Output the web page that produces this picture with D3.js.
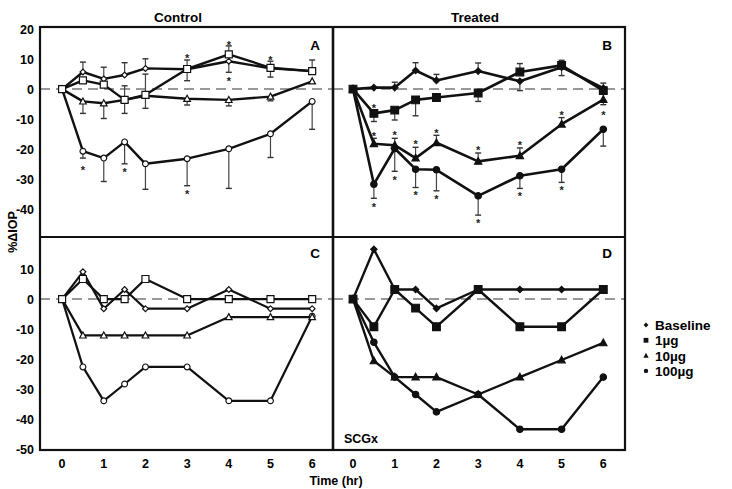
<!DOCTYPE html>
<html><head><meta charset="utf-8">
<script src="https://cdn.jsdelivr.net/npm/d3@7"></script>
<style>body{margin:0;background:#fff;} text{font-family:"Liberation Sans",Arial,sans-serif;font-weight:bold;}</style>
</head><body>
<svg id="c" width="732" height="489"></svg>
<script>
const times = [0, 0.5, 1, 1.5, 2, 3, 4, 5, 6];
const xTicks = [0, 1, 2, 3, 4, 5, 6];
const yTicksTop = [20, 10, 0, -10, -20, -30, -40];
const yTicksBottom = [10, 0, -10, -20, -30, -40, -50];
const seriesNames = ["Baseline", "1\u00b5g", "10\u00b5g", "100\u00b5g"];

// Panel A: Control (mean, error-bar end)
const ctrlBaseline    = [0, 5.7, 3.4, 4.7, 6.9, 6.6, 9.3, 6.9, 6.0];
const ctrlBaselineErr = [null, 9.0, 7.3, 8.8, 10.1, 2.8, 5.6, 4.0, null];
const ctrl1ug         = [0, 2.9, 1.5, -3.6, -1.9, 6.7, 11.6, 7.1, 6.0];
const ctrl1ugErr      = [null, null, null, 1.1, 5.0, 9.7, 14.4, 9.3, 9.7];
const ctrl10ug        = [0, -4.1, -4.7, -3.6, -2.2, -3.2, -3.6, -2.5, 2.6];
const ctrl10ugErr     = [null, -8.1, -9.8, -8.1, -6.4, -5.3, -5.6, -3.9, null];
const ctrl100ug       = [0, -20.7, -23.0, -17.6, -24.9, -23.2, -19.9, -14.9, -4.1];
const ctrl100ugErr    = [null, -23.0, -30.8, -24.9, -33.4, -32.2, -33.1, -22.8, -13.4];
const ctrlStars       = [[3, 11.3], [4, 15.7], [4, 3.5], [5, 10.6], [0.5, -26.1], [1.5, -26.8], [3, -34.2]];

// Panel B: Treated
const trtBaseline    = [0, 0.5, 0.5, 6.2, 2.9, 6.0, 2.6, 7.3, 0.3];
const trtBaselineErr = [null, null, 2.3, 8.8, 4.9, 8.7, -0.5, 4.5, 2.0];
const trt1ug         = [0, -8.1, -7.0, -3.6, -2.8, -1.3, 5.7, 7.9, -0.5];
const trt1ugErr      = [null, -10.8, -10.3, -8.9, null, -4.1, 8.5, 9.6, -3.9];
const trt10ug        = [0, -18.2, -18.7, -23.0, -17.9, -24.1, -22.2, -11.7, -3.5];
const trt10ugErr     = [null, -16.4, -16.4, -19.4, -15.4, -21.3, -19.6, -9.5, -5.2];
const trt100ug       = [0, -31.7, -19.8, -26.7, -26.9, -35.6, -28.9, -26.7, -13.4];
const trt100ugErr    = [null, -36.4, -27.4, -32.8, -33.9, -42.0, -33.1, -31.1, -19.0];
const trtStars       = [[0.5, -5.6], [0.5, -14.7], [1, -14.5], [1.5, -17.6], [2, -13.7], [3, -19.6], [4, -17.9], [5, -7.8], [6, -7.8],
                        [0.5, -38.6], [1, -29.5], [1.5, -34.5], [2, -35.8], [3, -43.7], [4, -34.7], [5, -32.8]];

// Panel C: Control (SCGx)
const scgCtrlBaseline = [0, 9.1, -3.2, 3.2, -3.2, -3.2, 3.2, -3.2, -3.2];
const scgCtrl1ug      = [0, 6.7, 0, 0, 6.7, 0, 0, 0, 0];
const scgCtrl10ug     = [0, -12.1, -12.1, -12.1, -12.1, -12.1, -6.0, -6.0, -6.0];
const scgCtrl100ug    = [0, -22.6, -33.9, -28.3, -22.6, -22.6, -33.9, -33.9, -5.7];

// Panel D: Treated (SCGx)
const scgTrtBaseline = [0, 16.6, 3.2, 3.2, -3.1, 3.2, 3.2, 3.2, 3.2];
const scgTrt1ug      = [0, -9.2, 3.2, -3.0, -9.2, 3.2, -9.2, -9.2, 3.2];
const scgTrt10ug     = [0, -20.6, -26.0, -26.0, -26.0, -31.8, -26.0, -20.3, -14.6];
const scgTrt100ug    = [0, -14.4, -26.0, -31.8, -37.6, -31.8, -43.4, -43.4, -26.0];

const svg = d3.select("#c");
const L = 40, M = 333, R = 625, T = 27, H = 237, B = 450;

const xLeft = d3.scaleLinear().domain([-0.53, 6.5]).range([L, M]);
const xRight = d3.scaleLinear().domain([-0.48, 6.52]).range([M, R]);
const yTop = d3.scaleLinear().domain([-49.3, 20.7]).range([H, T]);
const yBot = d3.scaleLinear().domain([-50.3, 20.7]).range([B, H]);

const shapes = ["diamond", "square", "triangle", "circle"];
const markerOrder = [0, 3, 2, 1]; // squares drawn on top

function markerPath(shape, s) {
  if (shape === "diamond") return `M0,${-s}L${s},0L0,${s}L${-s},0Z`;
  if (shape === "square") return `M${-s},${-s}H${s}V${s}H${-s}Z`;
  if (shape === "triangle") { const h = s * 1.15; return `M0,${-h}L${s * 1.1},${h * 0.75}L${-s * 1.1},${h * 0.75}Z`; }
  return d3.symbol(d3.symbolCircle, Math.PI * s * s)();
}
const markerSizes = { diamond: 2.9, square: 3.5, triangle: 3.0, circle: 2.9 };

function drawPanel(x, y, series, errs, stars, filled, lineW) {
  const g = svg.append("g");
  g.append("line").attr("x1", x.range()[0]).attr("x2", x.range()[1])
    .attr("y1", y(0)).attr("y2", y(0))
    .attr("stroke", "#777").attr("stroke-width", 1.5).attr("stroke-dasharray", "10,6");
  if (errs) {
    errs.forEach((eArr, si) => {
      eArr.forEach((e, i) => {
        if (e === null) return;
        const xv = x(times[i]);
        g.append("line").attr("x1", xv).attr("x2", xv).attr("y1", y(series[si][i])).attr("y2", y(e))
          .attr("stroke", "#444").attr("stroke-width", 1.2);
        g.append("line").attr("x1", xv - 3).attr("x2", xv + 3).attr("y1", y(e)).attr("y2", y(e))
          .attr("stroke", "#333").attr("stroke-width", 1.4);
      });
    });
  }
  const line = d3.line().x((d, i) => x(times[i])).y(d => y(d));
  series.forEach(vals => {
    g.append("path").attr("d", line(vals)).attr("fill", "none")
      .attr("stroke", "#111").attr("stroke-width", lineW).attr("stroke-linejoin", "round");
  });
  markerOrder.forEach(si => {
    const vals = series[si];
    const shape = shapes[si];
    g.selectAll(null).data(vals).enter().append("path")
      .attr("transform", (d, i) => `translate(${x(times[i])},${y(d)})`)
      .attr("d", markerPath(shape, markerSizes[shape] * (filled ? 1.1 : 1)))
      .attr("fill", filled ? "#111" : "#fff").attr("stroke", "#111").attr("stroke-width", 1.2);
  });
  if (stars) {
    g.selectAll(null).data(stars).enter().append("text")
      .attr("x", d => x(d[0])).attr("y", d => y(d[1]) + 6.5)
      .attr("text-anchor", "middle").attr("font-size", 11).attr("font-weight", "normal")
      .attr("fill", "#222").text("*");
  }
}

drawPanel(xLeft, yTop, [ctrlBaseline, ctrl1ug, ctrl10ug, ctrl100ug],
  [ctrlBaselineErr, ctrl1ugErr, ctrl10ugErr, ctrl100ugErr], ctrlStars, false, 2.4);
drawPanel(xRight, yTop, [trtBaseline, trt1ug, trt10ug, trt100ug],
  [trtBaselineErr, trt1ugErr, trt10ugErr, trt100ugErr], trtStars, true, 2.6);
drawPanel(xLeft, yBot, [scgCtrlBaseline, scgCtrl1ug, scgCtrl10ug, scgCtrl100ug], null, null, false, 2.2);
drawPanel(xRight, yBot, [scgTrtBaseline, scgTrt1ug, scgTrt10ug, scgTrt100ug], null, null, true, 2.4);

svg.append("rect").attr("x", L).attr("y", T).attr("width", R - L).attr("height", B - T)
  .attr("fill", "none").attr("stroke", "#111").attr("stroke-width", 2.2);
svg.append("line").attr("x1", M).attr("x2", M).attr("y1", T).attr("y2", B).attr("stroke", "#111").attr("stroke-width", 2.6);
svg.append("line").attr("x1", L).attr("x2", R).attr("y1", H).attr("y2", H).attr("stroke", "#111").attr("stroke-width", 2.2);

const fs = 12.5;
svg.selectAll(null).data(yTicksTop).enter().append("text")
  .attr("x", 34).attr("y", d => yTop(d) + 4.5).attr("text-anchor", "end").attr("font-size", fs).text(d => d);
svg.selectAll(null).data(yTicksBottom).enter().append("text")
  .attr("x", 34).attr("y", d => yBot(d) + 4.5).attr("text-anchor", "end").attr("font-size", fs).text(d => d);
[xLeft, xRight].forEach(x => {
  svg.selectAll(null).data(xTicks).enter().append("text")
    .attr("x", d => x(d)).attr("y", 468).attr("text-anchor", "middle").attr("font-size", fs).text(d => d);
});
svg.append("text").attr("x", 336).attr("y", 485).attr("text-anchor", "middle").attr("font-size", fs).text("Time (hr)");
svg.append("text").attr("transform", "translate(17,232) rotate(-90)").attr("text-anchor", "middle")
  .attr("font-size", fs).text("%\u0394IOP");

svg.append("text").attr("x", 178).attr("y", 22).attr("text-anchor", "middle").attr("font-size", 13.5).text("Control");
svg.append("text").attr("x", 475).attr("y", 22).attr("text-anchor", "middle").attr("font-size", 13.5).text("Treated");
[["A", 315, 50], ["B", 607, 50], ["C", 315, 258], ["D", 607, 258]].forEach(([t, x, y]) =>
  svg.append("text").attr("x", x).attr("y", y).attr("text-anchor", "middle").attr("font-size", 13.5).text(t));
svg.append("text").attr("x", 344).attr("y", 443).attr("font-size", 12.5).text("SCGx");

const lg = svg.append("g");
seriesNames.forEach((n, i) => {
  const yy = 325 + i * 15.3;
  const shape = shapes[i];
  lg.append("path").attr("transform", `translate(646,${yy})`)
    .attr("d", markerPath(shape, shape === "circle" ? 2.2 : 2.4)).attr("fill", "#111");
  lg.append("text").attr("x", 655).attr("y", yy + 5).attr("font-size", 13.5).text(n);
});
</script>
</body></html>
